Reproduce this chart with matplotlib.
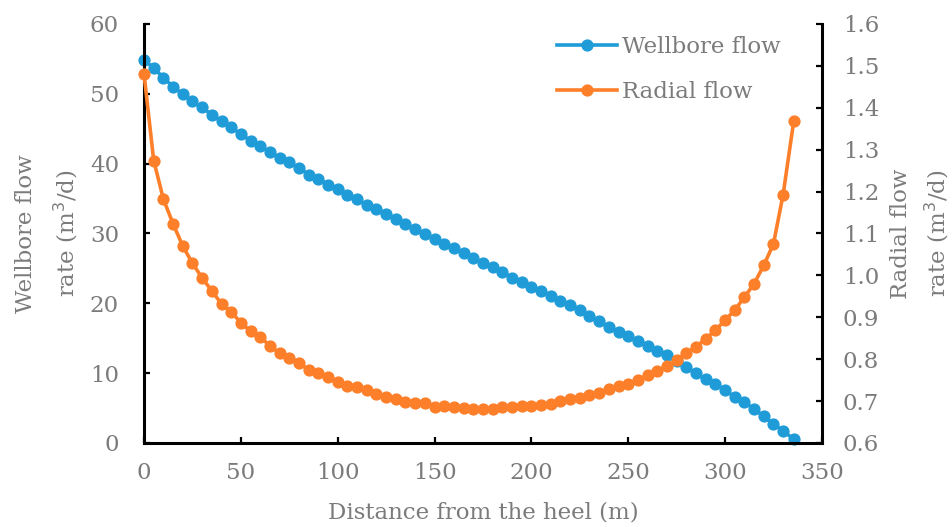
import matplotlib
matplotlib.use("Agg")
import matplotlib.pyplot as plt

# distance from the heel (m)
distance = [0, 5, 10, 15, 20, 25, 30, 35, 40, 45, 50, 55, 60, 65, 70, 75, 80,
            85, 90, 95, 100, 105, 110, 115, 120, 125, 130, 135, 140, 145, 150,
            155, 160, 165, 170, 175, 180, 185, 190, 195, 200, 205, 210, 215,
            220, 225, 230, 235, 240, 245, 250, 255, 260, 265, 270, 275, 280,
            285, 290, 295, 300, 305, 310, 315, 320, 325, 330, 335.5]

wellbore_flow = [54.9, 53.67, 52.33, 51.0, 49.95, 48.9, 48.05, 47.0, 46.05,
                 45.19, 44.24, 43.29, 42.48, 41.67, 40.81, 40.19, 39.38, 38.43,
                 37.86, 37.0, 36.43, 35.57, 34.9, 34.05, 33.55, 32.81, 32.1,
                 31.29, 30.67, 29.86, 29.19, 28.53, 27.9, 27.24, 26.43, 25.76,
                 25.19, 24.53, 23.67, 23.0, 22.33, 21.76, 21.1, 20.33, 19.71,
                 19.05, 18.14, 17.47, 16.61, 15.9, 15.29, 14.61, 13.86, 13.19,
                 12.57, 11.71, 10.9, 9.96, 9.14, 8.43, 7.57, 6.61, 5.9, 4.81,
                 3.86, 2.71, 1.76, 0.53]

radial_flow = [1.480, 1.274, 1.182, 1.123, 1.070, 1.029, 0.994, 0.963, 0.932,
               0.913, 0.887, 0.867, 0.853, 0.832, 0.814, 0.804, 0.790, 0.775,
               0.766, 0.758, 0.746, 0.736, 0.733, 0.726, 0.716, 0.710, 0.704,
               0.698, 0.695, 0.695, 0.686, 0.688, 0.685, 0.683, 0.680, 0.680,
               0.682, 0.685, 0.686, 0.688, 0.688, 0.691, 0.693, 0.701, 0.704,
               0.707, 0.714, 0.720, 0.728, 0.736, 0.740, 0.750, 0.762, 0.772,
               0.783, 0.798, 0.814, 0.829, 0.849, 0.869, 0.893, 0.917, 0.948,
               0.980, 1.024, 1.075, 1.193, 1.369]

BLUE = "#1f9cd8"
ORANGE = "#fd7f2a"
GREY = "#7b7b7b"
FONT = "DejaVu Serif"
SIZE = 16.5

plt.rcParams["font.family"] = FONT

fig = plt.figure(figsize=(9.52, 5.27), dpi=100)
ax = fig.add_axes([0.1513, 0.1594, 0.712, 0.7951])
ax2 = ax.twinx()

line1, = ax.plot(distance, wellbore_flow, color=BLUE, lw=2.6, marker="o",
                 ms=7.8, clip_on=False, label="Wellbore flow")
line2, = ax2.plot(distance, radial_flow, color=ORANGE, lw=2.6, marker="o",
                  ms=7.8, clip_on=False, label="Radial flow")

ax.set_xlim(0, 350)
ax.set_ylim(0, 60)
ax2.set_ylim(0.6, 1.6)
ax.set_xticks(range(0, 351, 50))
ax.set_yticks(range(0, 61, 10))
ax2.set_yticks([0.6 + 0.1 * i for i in range(11)])
ax2.set_yticklabels([f"{0.6 + 0.1 * i:.1f}" for i in range(11)])

for a in (ax, ax2):
    a.spines["top"].set_visible(False)
    for s in ("left", "right", "bottom"):
        a.spines[s].set_linewidth(2.2)
    a.tick_params(direction="in", length=4, width=1.6, labelsize=SIZE,
                  labelcolor=GREY)
ax.spines["right"].set_visible(False)
ax2.spines["left"].set_visible(False)
ax2.spines["bottom"].set_visible(False)
ax.tick_params(axis="x", pad=14)
ax.tick_params(axis="y", pad=18)
ax2.tick_params(axis="y", pad=15)

ax.set_xlabel("Distance from the heel (m)", fontsize=SIZE, color=GREY,
              labelpad=12)
fig.text(0.05, 0.557, "Wellbore flow\nrate (m$^3$/d)", rotation=90,
         ha="center", va="center", fontsize=SIZE, color=GREY,
         linespacing=1.65, multialignment="center")
fig.text(0.967, 0.557, "Radial flow\nrate (m$^3$/d)", rotation=90,
         ha="center", va="center", fontsize=SIZE, color=GREY,
         linespacing=1.45, multialignment="center")

leg = ax2.legend(handles=[line1, line2], loc="upper left",
                 bbox_to_anchor=(557 / 952, 1 - 36 / 527),
                 bbox_transform=fig.transFigure, frameon=False,
                 fontsize=SIZE, handlelength=2.6, handletextpad=0.25,
                 labelspacing=1.0, borderpad=0, borderaxespad=0)
for t in leg.get_texts():
    t.set_color(GREY)

fig.savefig("out.png", dpi=100)
